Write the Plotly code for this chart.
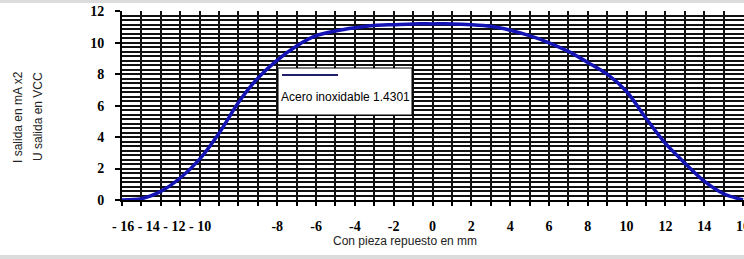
import plotly.graph_objects as go

# ---- data ----
pos_mm = [-16, -15, -14, -13, -12, -11, -10, -9, -8, -7, -6, -5, -4, -3, -2, -1,
          0, 1, 2, 3, 4, 5, 6, 7, 8, 9, 10, 11, 12, 13, 14, 15, 16]
salida = [0.0, 0.08, 0.55, 1.4, 2.6, 4.25, 6.2, 7.75, 8.9, 9.8, 10.45, 10.75, 10.95, 11.1, 11.15, 11.2,
          11.2, 11.2, 11.15, 11.05, 10.8, 10.45, 10.0, 9.45, 8.75, 8.0, 6.9, 5.2, 3.6, 2.35, 1.2, 0.4, 0.0]
series_name = "Acero inoxidable 1.4301"
x_tick_vals = [-8, -6, -4, -2, 0, 2, 4, 6, 8, 10, 12, 14, 16]
x_tick_text = ["-8", "-6", "-4", "-2", "0", "2", "4", "6", "8", "10", "12", "14", "16"]
x_left_labels = "- 16 - 14 - 12 - 10"
y_tick_vals = [0, 2, 4, 6, 8, 10, 12]
y_tick_text = ["0", "2", "4", "6", "8", "10", "12"]
x_title = "Con pieza repuesto en mm"
y_title_lines = ["I salida en mA x2", "U salida en VCC"]

W, H = 744, 259
L, R, T, B = 122, 0, 11, 59
pw, ph = W - L - R, H - T - B


def px(xp):
    return (xp - L) / pw


def py(yp):
    return (H - B - yp) / ph


def bold(s):
    return "<b>" + s + "</b>"


serif_bold = dict(family="Liberation Serif, Times New Roman, serif", size=14, color="black")
sans = dict(family="Liberation Sans, Arial, sans-serif", size=12, color="#222")
grid_col = "#111"

fig = go.Figure()
fig.add_trace(go.Scatter(
    x=pos_mm, y=salida, mode="lines", name=series_name,
    line=dict(color="#1414b4", width=3.5, shape="spline", smoothing=0.8),
    cliponaxis=False, showlegend=False,
))

fig.update_layout(
    width=W, height=H,
    margin=dict(l=L, r=R, t=T, b=B, autoexpand=False),
    paper_bgcolor="white", plot_bgcolor="white",
    xaxis=dict(
        range=[-16, 16.05], tickmode="array", tickvals=x_tick_vals,
        ticktext=[bold(t) for t in x_tick_text], automargin=False,
        ticklabeloverflow="allow",
        tickfont=serif_bold, ticks="outside", ticklen=4, tickwidth=2, tickcolor="black",
        ticklabelstandoff=8,
        showgrid=True, gridcolor=grid_col, gridwidth=2, zeroline=False,
        showline=True, linecolor="black", linewidth=2,
        minor=dict(tickmode="linear", tick0=0, dtick=1, showgrid=True, gridcolor=grid_col,
                   gridwidth=2, ticks="outside", ticklen=4, tickwidth=2, tickcolor="black"),
    ),
    yaxis=dict(
        range=[0, 12.02], tickmode="array", tickvals=y_tick_vals,
        ticktext=[bold(t) for t in y_tick_text], automargin=False,
        ticklabeloverflow="allow",
        tickfont=serif_bold, ticks="outside", ticklen=5, tickwidth=2, tickcolor="black",
        ticklabelstandoff=8,
        showgrid=True, gridcolor=grid_col, gridwidth=1.6, zeroline=False,
        showline=True, linecolor="black", linewidth=2,
        minor=dict(tickmode="linear", tick0=0, dtick=2 / 7, showgrid=True, gridcolor=grid_col,
                   gridwidth=1.6, ticks=""),
    ),
    showlegend=False,
)

annotations = [
    dict(text=bold(x_left_labels), x=px(110), y=py(226), xref="paper", yref="paper",
         xanchor="left", yanchor="middle", showarrow=False, font=serif_bold),
    dict(text=x_title, x=px(405), y=py(241), xref="paper", yref="paper",
         xanchor="center", yanchor="middle", showarrow=False, font=sans),
    dict(text=y_title_lines[0], x=px(18), y=py(117), xref="paper", yref="paper",
         xanchor="center", yanchor="middle", showarrow=False, font=sans, textangle=-90),
    dict(text=y_title_lines[1], x=px(38), y=py(117), xref="paper", yref="paper",
         xanchor="center", yanchor="middle", showarrow=False, font=sans, textangle=-90),
    dict(text=series_name, x=px(279), y=py(97), xref="paper", yref="paper",
         xanchor="left", yanchor="middle", showarrow=False,
         font=dict(family="Liberation Sans, Arial, sans-serif", size=12, color="black")),
]
fig.update_layout(annotations=annotations)

shapes = [
    # legend box
    dict(type="rect", xref="paper", yref="paper", x0=px(278), x1=px(412), y0=py(115), y1=py(68),
         fillcolor="white", line=dict(color="black", width=1), layer="above"),
    dict(type="line", xref="paper", yref="paper", x0=px(282), x1=px(338), y0=py(75), y1=py(75),
         line=dict(color="#20206a", width=2), layer="above"),
    # light grey scan bands
    dict(type="rect", xref="paper", yref="paper", x0=px(0), x1=px(W), y0=py(3), y1=py(0),
         fillcolor="#dcdcdc", line=dict(width=0), layer="above"),
    dict(type="rect", xref="paper", yref="paper", x0=px(0), x1=px(W), y0=py(259), y1=py(255),
         fillcolor="#dcdcdc", line=dict(width=0), layer="above"),
]
fig.update_layout(shapes=shapes)

fig.write_html(
    "out.html",
    config={"displayModeBar": False},
    post_script="document.body.style.margin='0';document.body.style.overflow='hidden';",
)
